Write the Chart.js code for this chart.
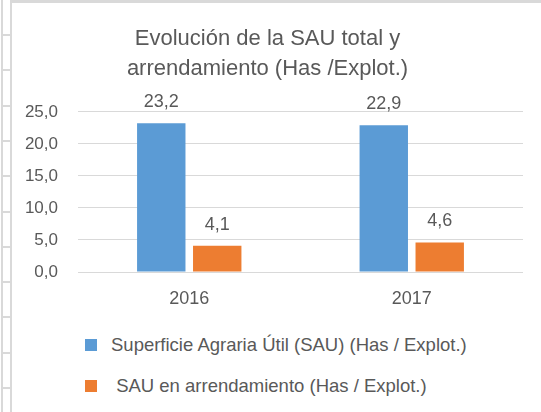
<!DOCTYPE html>
<html>
<head>
<meta charset="utf-8">
<script src="https://cdn.jsdelivr.net/npm/chart.js@4/dist/chart.umd.min.js"></script>
<style>
  html, body { margin: 0; padding: 0; background: #fff; }
  body { width: 541px; height: 412px; position: relative; overflow: hidden; font-family: 'Liberation Sans', sans-serif; }
  .top-bar { position: absolute; left: 10px; top: 0; width: 531px; height: 3px; background: #d9d9d9; }
  .vline { position: absolute; top: 0; width: 2px; height: 412px; background: #d9d9d9; }
  .tick { position: absolute; left: 1px; width: 10px; height: 2px; background: #d9d9d9; }
  #wrap { position: absolute; left: 12px; top: 4px; width: 529px; height: 316px; }
  #legend { position: absolute; left: 85px; top: 335px; }
  .lg-item { display: flex; align-items: center; height: 20px; margin-bottom: 21px; color: #595959; font-size: 18.5px; white-space: pre; }
  .lg-box { width: 12px; height: 12px; margin-right: 14px; }
</style>
</head>
<body>
<div class="top-bar"></div>
<div class="vline" style="left:1px"></div>
<div class="vline" style="left:10px"></div>
<div id="ticks"></div>
<div id="wrap"><canvas id="chart"></canvas></div>
<div id="legend"></div>
<script>
const years     = ['2016', '2017']
const sauTotal  = [23.2, 22.9]
const sauArrend = [4.1, 4.6]
const seriesNames = ['Superficie Agraria Útil (SAU) (Has / Explot.)', ' SAU en arrendamiento (Has / Explot.)']
const titleLines  = ['Evolución de la SAU total y', 'arrendamiento (Has /Explot.)']

const GREY = '#595959'
const FONT = '"Liberation Sans", sans-serif'
const fmt = v => v.toFixed(1).replace('.', ',')

// spreadsheet row marks on the left edge
const ticksEl = document.getElementById('ticks')
for (let y = 34; y < 412; y += 35.3) {
  const d = document.createElement('div')
  d.className = 'tick'
  d.style.top = Math.round(y) + 'px'
  ticksEl.appendChild(d)
}

const valueLabels = {
  id: 'valueLabels',
  afterDatasetsDraw(chart) {
    const ctx = chart.ctx
    ctx.save()
    ctx.font = '18px ' + FONT
    ctx.fillStyle = GREY
    ctx.textAlign = 'center'
    ctx.textBaseline = 'middle'
    chart.data.datasets.forEach((ds, i) => {
      chart.getDatasetMeta(i).data.forEach((bar, j) => {
        ctx.fillText(fmt(ds.data[j]), bar.x, bar.y - 21)
      })
    })
    ctx.restore()
  }
}

const chart = new Chart(document.getElementById('chart'), {
  type: 'bar',
  data: {
    labels: years,
    datasets: [
      { label: seriesNames[0], data: sauTotal,  backgroundColor: '#5b9bd5' },
      { label: seriesNames[1], data: sauArrend, backgroundColor: '#ed7d31' },
    ],
  },
  options: {
    responsive: true, maintainAspectRatio: false, animation: false,
    categoryPercentage: 0.503, barPercentage: 0.865,
    layout: { padding: { left: 0, right: 18, top: 0, bottom: 0 } },
    plugins: {
      legend: { display: false },
      tooltip: { enabled: false },
      title: {
        display: true, text: titleLines, color: GREY,
        font: { size: 22, family: FONT, weight: 'normal', lineHeight: 1.36 },
        padding: { top: 20, bottom: 28 },
      },
    },
    scales: {
      x: {
        grid: { display: false, drawTicks: false },
        border: { display: false },
        ticks: { color: GREY, padding: 16, font: { size: 18, family: FONT } },
        afterFit: s => { s.height = 48 },
      },
      y: {
        min: 0, max: 25,
        ticks: { stepSize: 5, color: GREY, padding: 20, callback: v => fmt(v), font: { size: 17, family: FONT } },
        grid: { color: '#d9d9d9', drawTicks: false, lineWidth: 1 },
        border: { display: false },
        afterFit: s => { s.width = 66 },
      },
    },
  },
  plugins: [valueLabels],
})

const legendEl = document.getElementById('legend')
chart.data.datasets.forEach(ds => {
  legendEl.insertAdjacentHTML('beforeend',
    `<div class="lg-item"><span class="lg-box" style="background:${ds.backgroundColor}"></span>${ds.label}</div>`)
})
</script>
</body>
</html>
